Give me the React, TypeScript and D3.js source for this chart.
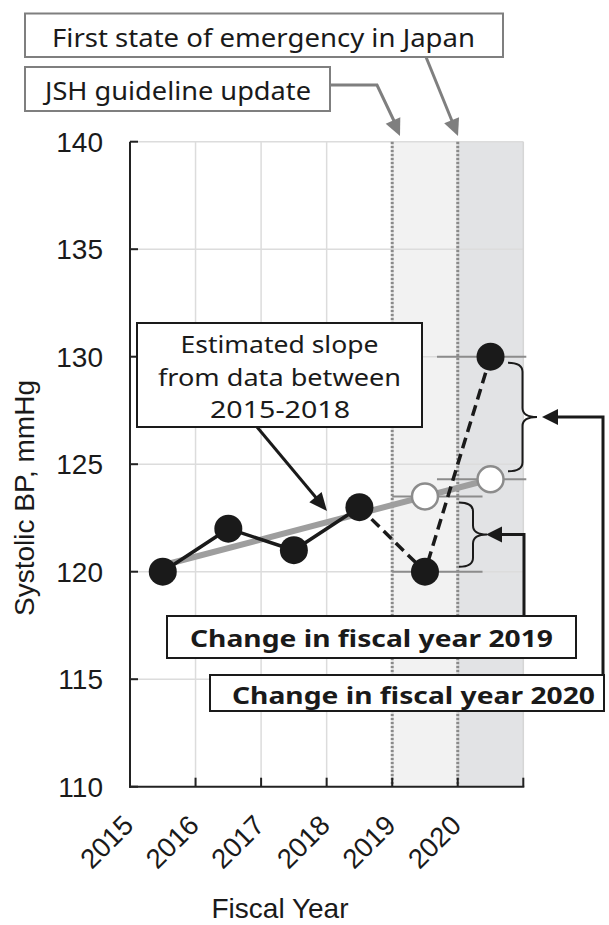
import React from "react";
import * as d3 from "d3";

const years = ["2015", "2016", "2017", "2018", "2019", "2020"];
const observedSBP = [120, 122, 121, 123, 120, 130];
const trendYears = ["2015", "2020"];
const trendSBP = [120.3, 124.3];
const predictedYears = ["2019", "2020"];
const predictedSBP = [123.5, 124.3];
const yTicks = [110, 115, 120, 125, 130, 135, 140];
const shadedYears = ["2019", "2020"];
const shadeColors = ["#f2f2f2", "#e2e3e5"];

const W = 609;
const H = 925;

function arrowHead(tx: number, ty: number, fx: number, fy: number, len: number, hw: number) {
  const dx = tx - fx;
  const dy = ty - fy;
  const d = Math.sqrt(dx * dx + dy * dy);
  const ux = dx / d;
  const uy = dy / d;
  const bx = tx - ux * len;
  const by = ty - uy * len;
  const px = -uy;
  const py = ux;
  return `${tx},${ty} ${bx + px * hw},${by + py * hw} ${bx - px * hw},${by - py * hw}`;
}

function bracePath(x0: number, y1: number, y2: number, w: number) {
  const ym = (y1 + y2) / 2;
  const s = x0 + w / 2;
  const r = 9;
  return `M${x0},${y1} Q${s},${y1} ${s},${y1 + r} L${s},${ym - r} Q${s},${ym} ${x0 + w},${ym} Q${s},${ym} ${s},${ym + r} L${s},${y2 - r} Q${s},${y2} ${x0},${y2}`;
}

export default function App() {
  const x = d3.scaleBand<string>().domain(years).range([130, 523.3]).paddingInner(0).paddingOuter(0);
  const y = d3.scaleLinear().domain([110, 140]).range([786.7, 141.7]);
  const bw = x.bandwidth();
  const cx = (yr: string) => (x(yr) as number) + bw / 2;
  const left = 130;
  const right = 523.3;
  const top = y(140);
  const bottom = y(110);

  const obs = years.map((yr, i) => ({ yr, v: observedSBP[i] }));
  const line = d3
    .line<{ yr: string; v: number }>()
    .x((d) => cx(d.yr))
    .y((d) => y(d.v));
  const solidPart = obs.slice(0, 4);
  const dashedPart = obs.slice(3);
  const trend = trendYears.map((yr, i) => ({ yr, v: trendSBP[i] }));
  const pred = predictedYears.map((yr, i) => ({ yr, v: predictedSBP[i] }));

  const boundaries = years.map((yr) => x(yr) as number).concat([right]);

  const boxFont = "'Noto Sans', 'DejaVu Sans', sans-serif";
  const axisFont = "'Liberation Sans', Arial, sans-serif";

  const x19a = x("2019") as number;
  const x19b = cx("2020") - 8;
  const x20a = cx("2019") + 12;
  const x20b = right + 3;

  const upperBrace = bracePath(508, y(130) + 6, y(predictedSBP[1]) - 8, 29);
  const upperMid = (y(130) + 6 + y(predictedSBP[1]) - 8) / 2;
  const lowerBrace = bracePath(459, y(predictedSBP[0]) + 6, y(120) - 5, 28);
  const lowerMid = (y(predictedSBP[0]) + 6 + y(120) - 5) / 2;

  return (
    <svg
      width={W}
      height={H}
      viewBox={`0 0 ${W} ${H}`}
      style={{ position: "absolute", left: 0, top: 0, background: "#fff" }}
    >
      <rect x={0} y={0} width={W} height={H} fill="#fff" />
      {shadedYears.map((yr, i) => (
        <rect key={yr} x={x(yr)} y={top} width={bw} height={bottom - top} fill={shadeColors[i]} />
      ))}
      {yTicks.slice(1).map((t) => (
        <line key={t} x1={left} x2={right} y1={y(t)} y2={y(t)} stroke="#dcdcdc" strokeWidth={1.5} />
      ))}
      {boundaries.slice(1, 4).map((b, i) => (
        <line key={i} x1={b} x2={b} y1={top} y2={bottom} stroke="#dcdcdc" strokeWidth={1.5} />
      ))}
      <line x1={right} x2={right} y1={top} y2={bottom} stroke="#d6d6d6" strokeWidth={1.5} />
      {[x("2019") as number, x("2020") as number].map((b, i) => (
        <line key={i} x1={b} x2={b} y1={top} y2={bottom} stroke="#8a8a8a" strokeWidth={3} strokeDasharray="2.5 1.5" />
      ))}
      <line x1={left} x2={left} y1={top} y2={bottom + 1} stroke="#222" strokeWidth={2} />
      <line x1={left - 1} x2={right + 1} y1={bottom} y2={bottom} stroke="#222" strokeWidth={2} />
      {yTicks.map((t) => (
        <line key={t} x1={left} x2={left + 8} y1={y(t)} y2={y(t)} stroke="#222" strokeWidth={2} />
      ))}
      {boundaries.map((b, i) => (
        <line key={i} x1={b} x2={b} y1={bottom} y2={bottom - 9} stroke="#222" strokeWidth={2} />
      ))}
      {yTicks.map((t) => (
        <text
          key={t}
          x={103}
          y={y(t)}
          dy="0.36em"
          textAnchor="end"
          fontFamily={axisFont}
          fontSize={28}
          fill="#1a1a1a"
        >
          {t}
        </text>
      ))}
      {years.map((yr) => (
        <text
          key={yr}
          transform={`translate(${(x(yr) as number) + 5},827) rotate(-45)`}
          textAnchor="end"
          fontFamily={axisFont}
          fontSize={27.5}
          fill="#1a1a1a"
        >
          {yr}
        </text>
      ))}
      <text
        transform="translate(34,498) rotate(-90)"
        textAnchor="middle"
        fontFamily={axisFont}
        fontSize={28}
        fill="#1a1a1a"
      >
        Systolic BP, mmHg
      </text>
      <text x={280} y={918} textAnchor="middle" fontFamily={axisFont} fontSize={28} fill="#1a1a1a">
        Fiscal Year
      </text>

      <line x1={x19a} x2={x19b} y1={y(predictedSBP[0])} y2={y(predictedSBP[0])} stroke="#8c8c8c" strokeWidth={2} />
      <line x1={x19a} x2={x19b} y1={y(observedSBP[4])} y2={y(observedSBP[4])} stroke="#8c8c8c" strokeWidth={2} />
      <line x1={x20a} x2={x20b} y1={y(observedSBP[5])} y2={y(observedSBP[5])} stroke="#8c8c8c" strokeWidth={2} />
      <line x1={x20a} x2={x20b} y1={y(predictedSBP[1])} y2={y(predictedSBP[1])} stroke="#8c8c8c" strokeWidth={2} />

      <path d={line(trend) as string} fill="none" stroke="#9e9e9e" strokeWidth={6} />
      <path d={line(solidPart) as string} fill="none" stroke="#1a1a1a" strokeWidth={3.5} />
      <path d={line(dashedPart) as string} fill="none" stroke="#1a1a1a" strokeWidth={3.5} strokeDasharray="11 6" />
      {obs.map((d) => (
        <circle key={d.yr} cx={cx(d.yr)} cy={y(d.v)} r={14} fill="#1a1a1a" />
      ))}
      {pred.map((d) => (
        <circle key={d.yr} cx={cx(d.yr)} cy={y(d.v)} r={13} fill="#fff" stroke="#8c8c8c" strokeWidth={2.5} />
      ))}

      <path d={upperBrace} fill="none" stroke="#1a1a1a" strokeWidth={2} />
      <path d={lowerBrace} fill="none" stroke="#1a1a1a" strokeWidth={2} />

      <path d={`M603,676 L603,${upperMid} L556,${upperMid}`} fill="none" stroke="#1a1a1a" strokeWidth={3} />
      <polygon points={arrowHead(542, upperMid, 603, upperMid, 16, 8)} fill="#1a1a1a" />
      <path d={`M524,617 L524,${lowerMid} L500,${lowerMid}`} fill="none" stroke="#1a1a1a" strokeWidth={3} />
      <polygon points={arrowHead(486, lowerMid, 524, lowerMid, 16, 8)} fill="#1a1a1a" />

      <line x1={257} y1={427} x2={318} y2={500} stroke="#1a1a1a" strokeWidth={3} />
      <polygon points={arrowHead(327, 511, 257, 427, 18, 8)} fill="#1a1a1a" />
      <rect x={137} y={323} width={285} height={104} fill="#fff" stroke="#1a1a1a" strokeWidth={2} />
      <text x={279.5} y={353} textAnchor="middle" fontFamily={boxFont} fontSize={24} fill="#1a1a1a" textLength={198} lengthAdjust="spacingAndGlyphs">
        Estimated slope
      </text>
      <text x={279.5} y={385.5} textAnchor="middle" fontFamily={boxFont} fontSize={24} fill="#1a1a1a" textLength={243} lengthAdjust="spacingAndGlyphs">
        from data between
      </text>
      <text x={280} y={418} textAnchor="middle" fontFamily={boxFont} fontSize={24} fill="#1a1a1a" textLength={140} lengthAdjust="spacingAndGlyphs">
        2015-2018
      </text>

      <rect x={167} y={616} width={409} height={42} fill="#fff" stroke="#1a1a1a" strokeWidth={2} />
      <text x={190} y={647} fontFamily={boxFont} fontWeight={700} fontSize={24} fill="#1a1a1a" textLength={363} lengthAdjust="spacingAndGlyphs">
        Change in fiscal year 2019
      </text>
      <rect x={210} y={675} width={394} height={36} fill="#fff" stroke="#1a1a1a" strokeWidth={2} />
      <text x={232} y={704} fontFamily={boxFont} fontWeight={700} fontSize={24} fill="#1a1a1a" textLength={363} lengthAdjust="spacingAndGlyphs">
        Change in fiscal year 2020
      </text>

      <path d="M330,85 L377,85 L395,123" fill="none" stroke="#7f7f7f" strokeWidth={3} />
      <polygon points={arrowHead(400, 136, 377, 85, 17, 8)} fill="#7f7f7f" />
      <line x1={426} y1={57} x2={452} y2={121} stroke="#7f7f7f" strokeWidth={3} />
      <polygon points={arrowHead(458, 136, 426, 57, 17, 8)} fill="#7f7f7f" />
      <rect x={25} y={13.5} width={478} height={43.5} fill="#fff" stroke="#7f7f7f" strokeWidth={2} />
      <text x={52} y={47} fontFamily={boxFont} fontSize={25} fill="#1a1a1a" textLength={423} lengthAdjust="spacingAndGlyphs">
        First state of emergency in Japan
      </text>
      <rect x={25} y={67} width={305} height={44} fill="#fff" stroke="#7f7f7f" strokeWidth={2} />
      <text x={45} y={100} fontFamily={boxFont} fontSize={25} fill="#1a1a1a" textLength={266} lengthAdjust="spacingAndGlyphs">
        JSH guideline update
      </text>
    </svg>
  );
}
